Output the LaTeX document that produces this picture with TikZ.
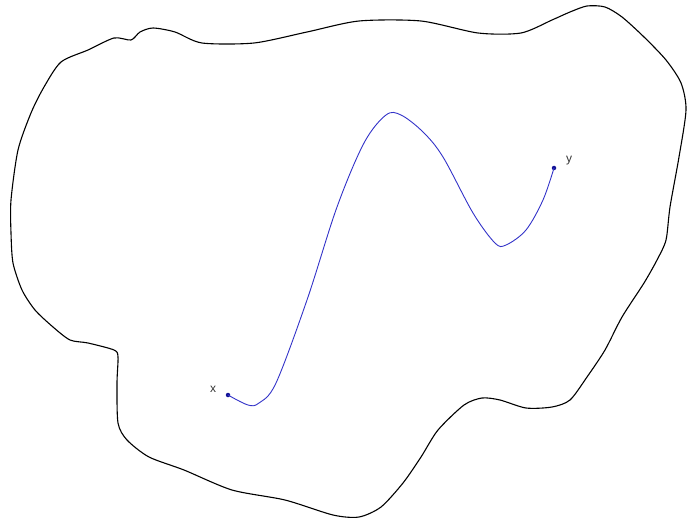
\documentclass[tikz,border=0pt]{standalone}
\usepackage{fontspec}
\setmainfont{Liberation Sans}
\begin{document}
\begin{tikzpicture}[x=1pt,y=-1pt,
  outline/.style={draw=black,line width=1.1pt,line join=round},
  pathline/.style={draw={rgb,255:red,50;green,50;blue,200},line width=0.9pt},
  endpt/.style={circle,fill={rgb,255:red,20;green,20;blue,150},inner sep=0pt,minimum size=4.5pt},
  lbl/.style={font=\fontsize{12}{14}\selectfont,text=black!80,inner sep=1pt}]
\useasboundingbox (0,0) rectangle (687,521);
\draw[outline] plot[smooth cycle,tension=0.45] coordinates {
 (61,62) (88,50) (114,38) (131,40) (140,32) (153,28) (175,32) (202,43)
 (254,43) (307,32) (359,21) (421,21) (478,33) (521,33) (552,20) (570,12)
 (587,6) (605,7) (622,17) (644,37) (666,60) (681,83) (686,110) (679,157)
 (670,207) (666,240) (657,260) (644,283) (622,317) (605,350) (587,377)
 (570,400) (552,407) (526,408) (500,400) (482,398) (464,405) (438,430)
 (421,457) (403,483) (381,507) (359,517) (333,515) (285,500) (232,490)
 (184,470) (149,457) (127,440) (118,423) (117,383) (118,357) (114,350)
 (88,343) (70,340) (53,327) (35,310) (22,290) (13,263) (11,233) (11,200)
 (18,150) (31,113) (44,87)};
\node[endpt] (x) at (228,395) {};
\node[endpt] (y) at (554,168) {};
\node[lbl] (xl) at (213,389) {x};
\node[lbl] (yl) at (569,161) {y};
\draw[pathline] plot[smooth,tension=0.55] coordinates {
 (228,395) (248,405) (259,403) (276,383) (307,300) (337,207) (364,143)
 (386,115) (401,115) (423,132) (443,157) (473,213) (495,243) (506,245)
 (526,230) (543,200) (554,168)};
\end{tikzpicture}
\end{document}
